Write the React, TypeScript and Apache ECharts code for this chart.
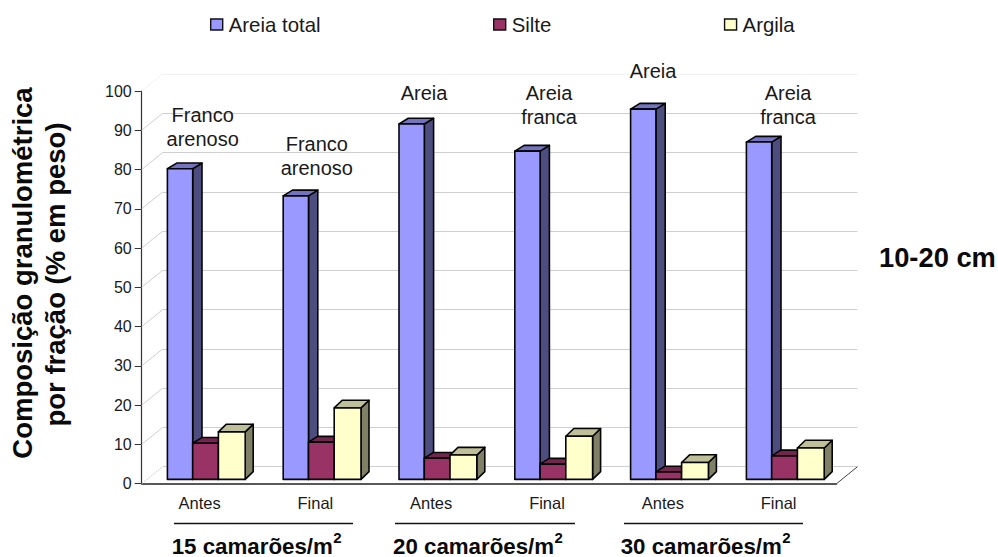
import React, { useEffect, useRef } from "react";
import * as echarts from "echarts";

const categories = ["Antes", "Final", "Antes", "Final", "Antes", "Final"];
const areiaTotal = [79.1, 72.2, 90.5, 83.6, 94.3, 85.9];
const silte = [9.2, 9.5, 5.4, 3.9, 1.9, 6.0];
const argila = [12.1, 18.2, 6.2, 11.0, 4.3, 8.0];
const yTicks = [0, 10, 20, 30, 40, 50, 60, 70, 80, 90, 100];
const soilClasses = [
  "Franco\narenoso",
  "Franco\narenoso",
  "Areia",
  "Areia\nfranca",
  "Areia",
  "Areia\nfranca",
];
const densities = ["15 camarões/m", "20 camarões/m", "30 camarões/m"];
const yTitle = ["Composição granulométrica", "por fração (% em peso)"];
const depthLabel = "10-20 cm";

const FONT = '"Liberation Sans", Arial, sans-serif';
const INK = "#1a1a1a";

// Where each soil-class caption sits above its bar.
const captionPos = [
  [202.7, 127],
  [316.8, 156],
  [424, 93],
  [549, 105],
  [653, 71],
  [788, 105],
];
const densityX = [171.7, 393, 620.7];
const ruleSpan = [
  [174, 353],
  [395, 575],
  [624, 803],
];

// Wall depth of the pseudo-3D plot, in pixels.
const WALL_DX = 21;
const WALL_DY = -17;
const BASE_LIFT = 4.3;

type BarStyle = {
  from: number;
  to: number;
  dx: number;
  dy: number;
  front: string;
  side: string;
  top: string;
};

const barStyles: Record<string, BarStyle> = {
  "Areia total": { from: 25.7, to: 51, dx: 9.3, dy: 5.7, front: "#9999ff", side: "#4d4d80", top: "#7373bf" },
  Silte: { from: 51, to: 76.7, dx: 9, dy: 5.7, front: "#993366", side: "#4d1a33", top: "#73264d" },
  Argila: { from: 76.7, to: 103.5, dx: 8, dy: 7.7, front: "#ffffcc", side: "#808066", top: "#bfbf99" },
};

// One box: front face, side face and lid, with the value read through the axes.
function boxSeries(name: string, values: number[]) {
  const s = barStyles[name];
  return {
    name,
    type: "custom",
    coordinateSystem: "cartesian2d",
    xAxisIndex: 0,
    yAxisIndex: 0,
    clip: false,
    z: 5,
    data: values.map((v, i) => [i, v]),
    encode: { x: 0, y: 1 },
    renderItem: (_p: any, api: any) => {
      const center = api.coord([api.value(0), api.value(1)]);
      const base = api.coord([api.value(0), 0]);
      const left = center[0] - api.size([1, 0])[0] / 2;
      const x0 = left + s.from;
      const x1 = left + s.to;
      const yTop = center[1] - BASE_LIFT;
      const yBase = base[1] - BASE_LIFT;
      const stroke = { stroke: "#050505", lineWidth: 1.6, lineJoin: "round" };
      return {
        type: "group",
        children: [
          {
            type: "polygon",
            shape: { points: [[x1, yBase], [x1 + s.dx, yBase - s.dy], [x1 + s.dx, yTop - s.dy], [x1, yTop]] },
            style: { fill: s.side, ...stroke },
          },
          {
            type: "polygon",
            shape: { points: [[x0, yTop], [x1, yTop], [x1 + s.dx, yTop - s.dy], [x0 + s.dx, yTop - s.dy]] },
            style: { fill: s.top, ...stroke },
          },
          {
            type: "rect",
            shape: { x: x0, y: yTop, width: x1 - x0, height: yBase - yTop },
            style: { fill: s.front, ...stroke },
          },
        ],
      };
    },
  };
}

// Slanted wall edges that join the value axis to the back wall.
const wallEdges = {
  type: "custom",
  coordinateSystem: "cartesian2d",
  xAxisIndex: 0,
  yAxisIndex: 0,
  clip: false,
  silent: true,
  z: 1,
  data: yTicks.map((v) => [0, v]),
  encode: { x: 0, y: 1 },
  renderItem: (p: any, api: any) => {
    const cs = p.coordSys;
    const v = api.value(1);
    const y = api.coord([0, v])[1];
    const children: any[] = [
      {
        type: "line",
        shape: { x1: cs.x, y1: y, x2: cs.x + WALL_DX, y2: y + WALL_DY },
        style: {
          stroke: v === 100 ? "#f2f2f2" : "#cfcfcf",
          lineWidth: 1,
          lineDash: v === 0 ? [2, 1] : undefined,
        },
      },
    ];
    if (v === 0) {
      children.push({
        type: "line",
        shape: { x1: cs.x + cs.width, y1: y, x2: cs.x + cs.width + WALL_DX, y2: y + WALL_DY },
        style: { stroke: "#444444", lineWidth: 1 },
      });
    }
    return { type: "group", children };
  },
};

const legendItem = (name: string) => ({
  name,
  icon: "rect",
  itemStyle: { color: barStyles[name].front, borderColor: "#111111", borderWidth: 1.4 },
});

function buildGraphics() {
  const text = (t: string, x: number, y: number, size: number, extra: any = {}) => ({
    type: "text",
    x,
    y,
    z: 20,
    rotation: extra.rotation ?? 0,
    style: {
      text: t,
      fill: extra.fill ?? INK,
      font: `${extra.bold ? "bold " : ""}${size}px ${FONT}`,
      textAlign: extra.align ?? "center",
      textVerticalAlign: "middle",
      lineHeight: extra.lineHeight,
    },
  });
  const out: any[] = [];
  soilClasses.forEach((c, i) => {
    out.push(text(c, captionPos[i][0], captionPos[i][1], 20, { lineHeight: 23.7 }));
  });
  densities.forEach((d, i) => {
    out.push(text(d, densityX[i], 546, 22.3, { bold: true, align: "left", fill: "#0a0a0a" }));
    out.push(text("2", densityX[i] + 161.5, 537, 15, { bold: true, align: "left", fill: "#0a0a0a" }));
    out.push({
      type: "line",
      z: 20,
      shape: { x1: ruleSpan[i][0], y1: 523.5, x2: ruleSpan[i][1], y2: 523.5 },
      style: { stroke: "#111111", lineWidth: 1.5 },
    });
  });
  out.push(text(yTitle[0], 22.5, 273, 27.5, { bold: true, rotation: Math.PI / 2, fill: "#0a0a0a" }));
  out.push(text(yTitle[1], 55, 274.5, 27.5, { bold: true, rotation: Math.PI / 2, fill: "#0a0a0a" }));
  out.push(text(depthLabel, 879, 257, 27.3, { bold: true, align: "left", fill: "#0a0a0a" }));
  return out;
}

export default function App() {
  const ref = useRef<HTMLDivElement>(null);

  useEffect(() => {
    if (!ref.current) return;
    const chart = echarts.init(ref.current, undefined, { renderer: "svg" });
    chart.setOption({
      animation: false,
      backgroundColor: "#ffffff",
      textStyle: { fontFamily: FONT },
      legend: {
        left: 210,
        top: 14.5,
        padding: 0,
        itemWidth: 12,
        itemHeight: 11,
        itemGap: 172.5,
        selectedMode: false,
        textStyle: { fontFamily: FONT, fontSize: 20.4, color: INK, padding: [0, 0, 0, 1] },
        data: Object.keys(barStyles).map(legendItem),
      },
      grid: [
        { left: 141.7, top: 91, width: 694.8, height: 392.7 },
        { left: 141.7 + WALL_DX, top: 91 + WALL_DY, width: 694.8, height: 392.7 },
      ],
      xAxis: [
        {
          type: "category",
          gridIndex: 0,
          data: categories,
          axisLine: { lineStyle: { color: "#222222", width: 1.5 } },
          axisTick: { length: 6, lineStyle: { color: "#222222", width: 1 } },
          axisLabel: { color: INK, fontSize: 16.5, fontFamily: FONT, margin: 11, interval: 0 },
          splitLine: { show: false },
        },
        { type: "category", gridIndex: 1, data: categories, show: false },
      ],
      yAxis: [
        {
          type: "value",
          gridIndex: 0,
          min: 0,
          max: 100,
          interval: 10,
          axisLine: { show: true, lineStyle: { color: "#333333", width: 1.2 } },
          axisTick: { show: true, length: 7, lineStyle: { color: "#333333", width: 1 } },
          axisLabel: { color: INK, fontSize: 16, fontFamily: FONT, margin: 10 },
          splitLine: { show: false },
        },
        {
          type: "value",
          gridIndex: 1,
          min: 0,
          max: 100,
          interval: 10,
          axisLine: { show: false },
          axisTick: { show: false },
          axisLabel: { show: false },
          splitLine: {
            show: true,
            lineStyle: {
              width: 1,
              color: [...yTicks.slice(1).map(() => "#cfcfcf"), "#f2f2f2"],
            },
          },
        },
      ],
      series: [
        wallEdges,
        boxSeries("Areia total", areiaTotal),
        boxSeries("Silte", silte),
        boxSeries("Argila", argila),
      ],
      graphic: buildGraphics(),
    });
    return () => chart.dispose();
  }, []);

  return (
    <div
      ref={ref}
      style={{ position: "absolute", left: 0, top: 0, width: 998, height: 557 }}
    />
  );
}
